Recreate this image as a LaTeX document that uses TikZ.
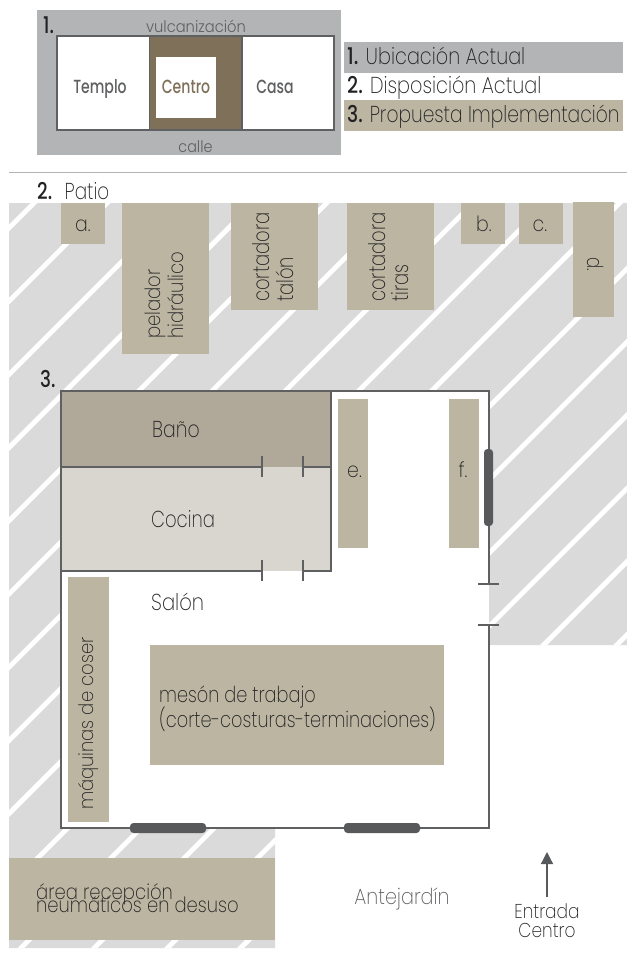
\documentclass[tikz,border=0pt]{standalone}
\usepackage{fontspec}
\setmainfont{Poppins ExtraLight}[BoldFont={Poppins Medium}]
\newfontfamily\lightf{Poppins Light}
\usetikzlibrary{arrows.meta}
\definecolor{hatchgrey}{HTML}{DADADA}
\definecolor{tan}{HTML}{BBB5A1}
\definecolor{band}{HTML}{B3B4B6}
\definecolor{wall}{HTML}{5F6062}
\definecolor{winc}{HTML}{58595B}
\definecolor{brownc}{HTML}{7F7059}
\definecolor{banoc}{HTML}{B0A999}
\definecolor{cocinac}{HTML}{D9D6D0}
\definecolor{ink}{HTML}{222224}
\tikzset{
  x=1pt,y=-1pt,
  area/.style={fill=#1,draw=none,inner sep=0pt,outer sep=0pt,anchor=north west},
  txt/.style 2 args={font=\fontsize{#1}{#1}\selectfont,text=ink,inner sep=0pt,anchor=base west,xscale=#2,transform shape},
  ctxt/.style 2 args={txt={#1}{#2},anchor=base},
  wallline/.style={draw=wall,line width=1.5pt},
  winbar/.style={fill=winc,draw=none,rounded corners=3.5pt},
}
\newcommand{\tbox}[6]{\node[area=#6,minimum width=#4pt-#2pt,minimum height=#5pt-#3pt] (#1) at (#2,#3) {};}
\begin{document}
\begin{tikzpicture}
\useasboundingbox (0,0) rectangle (627,956);
% hatch ground
\begin{scope}
\clip (9,203) -- (627,203) -- (627,645) -- (275,645) -- (275,948) -- (9,948) -- cycle;
\fill[hatchgrey] (0,190) rectangle (627,956);
\foreach \k in {0,...,24}{
  \draw[white,line width=4.8pt] ({237+73.2*\k},0) -- ({237+73.2*\k-1100},1100);
}
\end{scope}
% panel 1
\tbox{panel}{37}{10}{341}{155}{band}
\tbox{templo}{57}{36}{150}{130}{white}
\tbox{casa}{242}{36}{334}{130}{white}
\tbox{centrobg}{150}{36}{242}{130}{brownc}
\tbox{centrow}{156}{57}{216}{118}{white}
\draw[wall,line width=1.5pt] (57,36) rectangle (334,130);
\draw[wall,line width=1.2pt] (149.5,36) -- (149.5,130) (242,36) -- (242,130);
\node[txt={23}{.8}] (n1) at (43,33) {\textbf{1.}};
\node[ctxt={16}{.92},text=wall] (vul) at (196,32) {\lightf vulcanización};
\node[ctxt={19}{.74},text=wall] (templo-t) at (100,93) {\textbf{Templo}};
\node[ctxt={19}{.74},text=brownc] (centro-t) at (186,93) {\textbf{Centro}};
\node[ctxt={19}{.74},text=wall] (casa-t) at (275,93) {\textbf{Casa}};
\node[ctxt={16}{.9},text=wall] (calle) at (195.5,152) {\lightf calle};
% legend
\tbox{leg1}{344}{42}{623}{73}{band}
\tbox{leg3}{344}{100}{623}{131}{tan}
\node[txt={23}{.835}] (l1) at (347,64) {\textbf{1.} Ubicación Actual};
\node[txt={23}{.835}] (l2) at (347,93) {\textbf{2.} Disposición Actual};
\node[txt={23}{.812}] (l3) at (347,122) {\textbf{3.} Propuesta Implementación};
% rule
\draw[draw=band,line width=1pt] (9,172) -- (627,172);
\node[txt={23}{.8}] (patio) at (37,199) {\textbf{2.}\hspace{7pt} Patio};
% patio boxes
\tbox{a}{61}{203}{105}{244}{tan}
\tbox{pel}{122}{203}{209}{354}{tan}
\tbox{tal}{231}{203}{318}{310}{tan}
\tbox{tir}{347}{203}{434}{310}{tan}
\tbox{b}{461}{203}{505}{244}{tan}
\tbox{c}{519}{203}{563}{244}{tan}
\tbox{d}{573}{202}{614}{317}{tan}
\node[ctxt={21}{.9}] (a-t) at (83,231) {a.};
\node[ctxt={21}{.9}] (b-t) at (484,231) {b.};
\node[ctxt={21}{.9}] (c-t) at (540,231) {c.};
\node[rotate=-90,txt={22}{.75}] (d-t) at (587,257) {d.};
\node[rotate=90,txt={21}{.86}] (pel1) at (160,339) {pelador};
\node[rotate=90,txt={21}{.86}] (pel2) at (183,339) {hidráulico};
\node[rotate=90,txt={23}{.78}] (tal1) at (269,302) {cortadora};
\node[rotate=90,txt={23}{.78}] (tal2) at (293,302) {talón};
\node[rotate=90,txt={23}{.78}] (tir1) at (385,302) {cortadora};
\node[rotate=90,txt={23}{.78}] (tir2) at (408,302) {tiras};
% house
\node[txt={23}{.8}] (n3) at (40,387) {\textbf{3.}};
\fill[white] (61,391) rectangle (489,828);
\tbox{bano}{61}{391}{331}{467}{banoc}
\tbox{cocina}{61}{467}{331}{571}{cocinac}
\tbox{e}{338}{399}{368}{548}{tan}
\tbox{f}{449}{399}{479}{548}{tan}
\tbox{maq}{68}{577}{109}{822}{tan}
\tbox{meson}{150}{645}{444}{765}{tan}
\draw[wallline] (489,584) -- (489,391) -- (61,391) -- (61,828) -- (489,828) -- (489,625);
\draw[wallline] (478,584) -- (499,584) (478,625) -- (499,625);
\draw[wallline] (331,391) -- (331,571) -- (303,571);
\draw[wallline] (61,467) -- (262,467) (303,467) -- (331,467) (61,571) -- (262,571);
\draw[wallline] (262,456) -- (262,477) (303,456) -- (303,477) (262,560) -- (262,581) (303,560) -- (303,581);
\fill[winbar] (484,449) rectangle (493,526);
\fill[winbar] (130,823) rectangle (206,833);
\fill[winbar] (344,823) rectangle (420,833);
\node[txt={23}{.82}] (bano-t) at (152,437) {Baño};
\node[txt={23}{.783}] (cocina-t) at (151,527) {Cocina};
\node[txt={23}{.85}] (salon-t) at (151,610) {Salón};
\node[ctxt={21}{.9}] (e-t) at (354.5,477) {e.};
\node[ctxt={21}{.9}] (f-t) at (463,477) {f.};
\node[rotate=90,txt={20}{.9}] (maq-t) at (93,810) {máquinas de coser};
\node[txt={22}{.805}] (m1) at (159,702) {mesón de trabajo};
\node[txt={22}{.805}] (m2) at (159,727) {(corte-costuras-terminaciones)};
% reception
\tbox{rec}{9}{858}{275}{940}{tan}
\node[txt={21}{.857}] (r1) at (36,899) {área recepción};
\node[txt={21}{.857}] (r2) at (36,912) {neumáticos en desuso};
\node[ctxt={22}{.87},text=wall] (ante) at (402,904) {Antejardín};
\node[ctxt={20}{.85}] (ent1) at (547,918) {Entrada};
\node[ctxt={20}{.85}] (ent2) at (547,937) {Centro};
\coordinate (arrowstart) at (547,897);
\coordinate (arrowend) at (547,852);
\draw[winc,line width=1.3pt,-{Triangle[length=12pt,width=12pt]}] (arrowstart) -- (arrowend);
\end{tikzpicture}
\end{document}
